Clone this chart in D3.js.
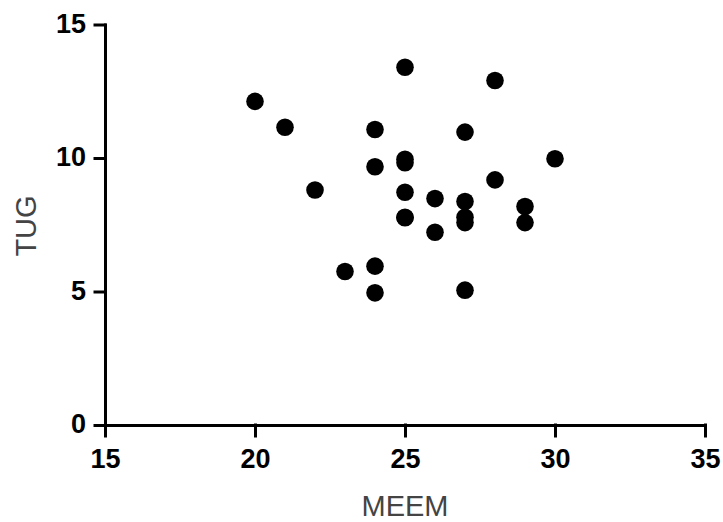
<!DOCTYPE html>
<html>
<head>
<meta charset="utf-8">
<script src="https://cdn.jsdelivr.net/npm/d3@7"></script>
<style>
  html, body { margin: 0; padding: 0; background: #fff; }
  svg { display: block; }
</style>
</head>
<body>
<svg id="chart" width="723" height="522"></svg>
<script>
// Data
const meem = [20, 21, 22, 23, 24, 24, 24, 24, 25, 25, 25, 25, 25, 25, 26, 26, 27, 27, 27, 27, 27, 28, 28, 29, 29, 30];
const tug  = [12.12, 11.15, 8.8, 5.75, 11.07, 9.67, 5.95, 4.95, 13.4, 9.95, 9.82, 8.72, 7.78, 7.76, 8.48, 7.22, 10.97, 8.37, 7.78, 7.58, 5.05, 12.9, 9.18, 8.18, 7.58, 9.97];
const xTicks = [15, 20, 25, 30, 35];
const yTicks = [0, 5, 10, 15];
const xTitle = "MEEM";
const yTitle = "TUG";

const svg = d3.select("#chart");
const x = d3.scaleLinear().domain([15, 35]).range([105, 705]);
const y = d3.scaleLinear().domain([0, 15]).range([425, 24.5]);

const font = "'Liberation Sans', Arial, Helvetica, sans-serif";

// X axis
const gx = svg.append("g")
  .attr("transform", `translate(0,${y(0)})`)
  .call(d3.axisBottom(x).tickValues(xTicks).tickFormat(d3.format("d"))
    .tickSize(11).tickSizeOuter(0).tickPadding(13));
gx.selectAll("text").attr("font-size", 27).attr("font-weight", "bold")
  .attr("font-family", font).attr("fill", "#000");

// Y axis
const gy = svg.append("g")
  .attr("transform", `translate(${x(15)},0)`)
  .call(d3.axisLeft(y).tickValues(yTicks).tickFormat(d3.format("d"))
    .tickSize(10).tickSizeOuter(0).tickPadding(9));
gy.selectAll("text").attr("font-size", 27).attr("font-weight", "bold")
  .attr("font-family", font).attr("fill", "#000").attr("dy", "0.28em");

svg.selectAll(".domain, .tick line")
  .attr("stroke", "#000").attr("stroke-width", 3).attr("stroke-linecap", "square");

// Points
svg.append("g").selectAll("circle")
  .data(meem.map((m, i) => ({ m, t: tug[i] })))
  .join("circle")
  .attr("cx", d => x(d.m))
  .attr("cy", d => y(d.t))
  .attr("r", 8.8)
  .attr("fill", "#000");

// Axis titles
svg.append("text")
  .attr("x", 405).attr("y", 516)
  .attr("text-anchor", "middle")
  .attr("font-family", font).attr("font-size", 29)
  .attr("fill", "#444")
  .text(xTitle);

svg.append("text")
  .attr("transform", "translate(36,226) rotate(-90)")
  .attr("text-anchor", "middle")
  .attr("font-family", font).attr("font-size", 29)
  .attr("fill", "#444")
  .text(yTitle);
</script>
</body>
</html>
